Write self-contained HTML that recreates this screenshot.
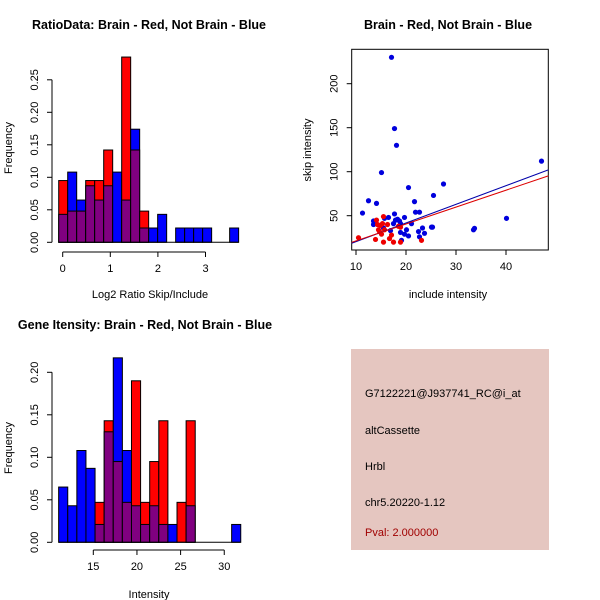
<!DOCTYPE html>
<html><head><meta charset="utf-8"><style>
html,body{margin:0;padding:0;background:#fff}
svg{display:block;font-family:"Liberation Sans",sans-serif}
</style></head><body>
<svg id="c" width="600" height="600" viewBox="0 0 600 600">
<rect x="0" y="0" width="600" height="600" fill="#fff"/>
<text x="149" y="29" font-size="12.5" font-weight="bold" text-anchor="middle">RatioData: Brain - Red, Not Brain - Blue</text>
<text x="448" y="29" font-size="12.5" font-weight="bold" text-anchor="middle">Brain - Red, Not Brain - Blue</text>
<text x="145" y="329" font-size="12.5" font-weight="bold" text-anchor="middle">Gene Itensity: Brain - Red, Not Brain - Blue</text>
<text x="150" y="298" font-size="11" text-anchor="middle">Log2 Ratio Skip/Include</text>
<text x="149" y="598" font-size="11" text-anchor="middle">Intensity</text>
<text x="448" y="298" font-size="11" text-anchor="middle">include intensity</text>
<text transform="translate(12,148) rotate(-90)" font-size="11" text-anchor="middle">Frequency</text>
<text transform="translate(12,448) rotate(-90)" font-size="11" text-anchor="middle">Frequency</text>
<text transform="translate(311,150) rotate(-90)" font-size="11" text-anchor="middle">skip intensity</text>
<g id="g1"></g>
<g id="g2"></g>
<g id="g3"></g>
<g>
<rect x="351" y="349" width="198" height="201" fill="#e5c6c0"/>
<text x="365" y="397" font-size="11">G7122221@J937741_RC@i_at</text>
<text x="365" y="434" font-size="11">altCassette</text>
<text x="365" y="470" font-size="11">Hrbl</text>
<text x="365" y="506" font-size="11">chr5.20220-1.12</text>
<text x="365" y="536" font-size="11" fill="#a00000">Pval: 2.000000</text>
</g>
</svg>
<script>
// Ratio histogram data
const ratioRed = [0.095,0.048,0.048,0.095,0.095,0.142,0,0.285,0.142,0.048,0,0,0,0,0,0,0,0,0,0];
const ratioBlue = [0.043,0.108,0.065,0.087,0.065,0.087,0.108,0.065,0.174,0.022,0.022,0.043,0,0.022,0.022,0.022,0.022,0,0,0.022];
const ratioXTicks = [0,1,2,3];
const ratioYTicks = [0,0.05,0.10,0.15,0.20,0.25];
// Intensity histogram data
const intRed = [0,0,0,0,0.047,0.143,0.095,0.047,0.190,0.047,0.095,0.143,0,0.047,0.143,0,0,0,0,0];
const intBlue = [0.065,0.043,0.108,0.087,0.021,0.130,0.217,0.108,0.043,0.021,0.043,0.021,0.021,0,0.043,0,0,0,0,0.021];
const intXTicks = [15,20,25,30];
const intYTicks = [0,0.05,0.10,0.15,0.20];
// Scatter data
const blueX = [17.1,17.7,18.1,15.1,47.1,20.5,27.5,25.5,21.7,12.5,14.1,11.3,21.9,22.7,40.1,17.7,19.7,33.5,33.7,25.1,25.3,13.5,13.5,15.7,16.5,17.5,18.7,18.9,21.1,23.3,23.7,22.5,22.7,20.1,20.5,19.7,18.9,19.1,16.9,15.5,17.9,18.3];
const blueY = [230,149,130,99,112,82,86,73,66,67,64,53,54,54,47,52,48,34,35.6,37,37,44,40,47,48,41,44,41,41,36,30,32,26,34,27,29,31,22,33,36,45,46];
const redX = [10.5,13.9,15.5,17.5,18.9,23.1,14.7,15.1,14.3,14.9,15.3,14.5,15.5,16.3,16.7,17.1,18.5,18.9,15.7,14.1];
const redY = [25,23,20,20,20,22,32,29,40,39,41,34,49,40,24,28,38,37,34,45];
const fitBlue = [-0.7,2.12];
const fitRed = [2.2,1.92];
const scXTicks = [10,20,30,40];
const scYTicks = [50,100,150,200];

const NS='http://www.w3.org/2000/svg';
function mk(parent,tag,attrs){const e=document.createElementNS(NS,tag);for(const k in attrs)e.setAttribute(k,attrs[k]);parent.appendChild(e);return e;}

function hist(g,red,blue,x0,w,sx,sy,xt,yt,axisY,axisX,xtFmt,ytFmt,pre){
  for(let i=0;i<red.length;i++){
    const a=x0+i*w, L=sx(a), R=sx(a+w);
    const r=red[i], b=blue[i], mn=Math.min(r,b), mx=Math.max(r,b);
    if(mx>0){
      const e=mk(g,'rect',{x:L,y:sy(mx),width:R-L,height:sy(0)-sy(mx),fill:r>b?'#ff0000':'#0000ff',stroke:'#000','stroke-width':1});
      
      
    }
    if(mn>0){
      const e=mk(g,'rect',{x:L,y:sy(mn),width:R-L,height:sy(0)-sy(mn),fill:'#800080',stroke:'#000','stroke-width':1});
      
      
    }
  }
  mk(g,'line',{x1:sx(xt[0]),x2:sx(xt[xt.length-1]),y1:axisY,y2:axisY,stroke:'#000'});
  xt.forEach(t=>{mk(g,'line',{x1:sx(t),x2:sx(t),y1:axisY,y2:axisY+5,stroke:'#000'});
    const tx=mk(g,'text',{x:sx(t),y:axisY+20,'font-size':11,'text-anchor':'middle'});tx.textContent=xtFmt(t);
    
    });
  mk(g,'line',{x1:axisX,x2:axisX,y1:sy(yt[0]),y2:sy(yt[yt.length-1]),stroke:'#000'});
  yt.forEach(t=>{mk(g,'line',{x1:axisX-5,x2:axisX,y1:sy(t),y2:sy(t),stroke:'#000'});
    const tx=mk(g,'text',{transform:`translate(${axisX-14},${sy(t)}) rotate(-90)`,'font-size':11,'text-anchor':'middle'});tx.textContent=ytFmt(t);
    
    });
  mk(g,'line',{x1:sx(x0),x2:sx(x0+w*red.length),y1:sy(0),y2:sy(0),stroke:'#000'});
}
const f2=t=>t.toFixed(2);
hist(document.getElementById('g1'),ratioRed,ratioBlue,-0.084,0.189,
  v=>62.7+v*47.6, v=>242.3-v*650, ratioXTicks, ratioYTicks, 252, 52, t=>String(t), f2,'ratio');
hist(document.getElementById('g2'),intRed,intBlue,11.03,1.043,
  v=>93.3+(v-15)*8.73, v=>542.3-v*850, intXTicks, intYTicks, 550, 52, t=>String(t), f2,'intensity');

(function(){
  const g=document.getElementById('g3');
  const sx=v=>356+(v-10)*5, sy=v=>215.7-(v-50)*0.88;
  const L=351.7,R=548.3,T=49.3,B=250;
  const clip=mk(g,'clipPath',{id:'scclip'});mk(clip,'rect',{x:L,y:T,width:R-L,height:B-T});
  mk(g,'rect',{x:L,y:T,width:R-L,height:B-T,fill:'none',stroke:'#000'});
  scXTicks.forEach(t=>{mk(g,'line',{x1:sx(t),x2:sx(t),y1:B,y2:B+5,stroke:'#000'});
    const tx=mk(g,'text',{x:sx(t),y:B+20,'font-size':11,'text-anchor':'middle'});tx.textContent=t;
    
    });
  scYTicks.forEach(t=>{mk(g,'line',{x1:L-5,x2:L,y1:sy(t),y2:sy(t),stroke:'#000'});
    const tx=mk(g,'text',{transform:`translate(${L-14},${sy(t)}) rotate(-90)`,'font-size':11,'text-anchor':'middle'});tx.textContent=t;
    
    });
  blueX.forEach((x,i)=>{const c=mk(g,'circle',{cx:sx(x),cy:sy(blueY[i]),r:2.6,fill:'#0000dd','clip-path':'url(#scclip)'});
    
    });
  redX.forEach((x,i)=>{const c=mk(g,'circle',{cx:sx(x),cy:sy(redY[i]),r:2.6,fill:'#ee0000','clip-path':'url(#scclip)'});
    
    });
  [[fitBlue,'#0000aa','not-brain-fit'],[fitRed,'#dd0000','brain-fit']].forEach(([f,col,nm])=>{
    const xa=9,xb=49;
    const l=mk(g,'line',{x1:sx(xa),y1:sy(f[0]+f[1]*xa),x2:sx(xb),y2:sy(f[0]+f[1]*xb),stroke:col,'stroke-width':1,'clip-path':'url(#scclip)'});
    
    
  });
})();
</script>
</body></html>
